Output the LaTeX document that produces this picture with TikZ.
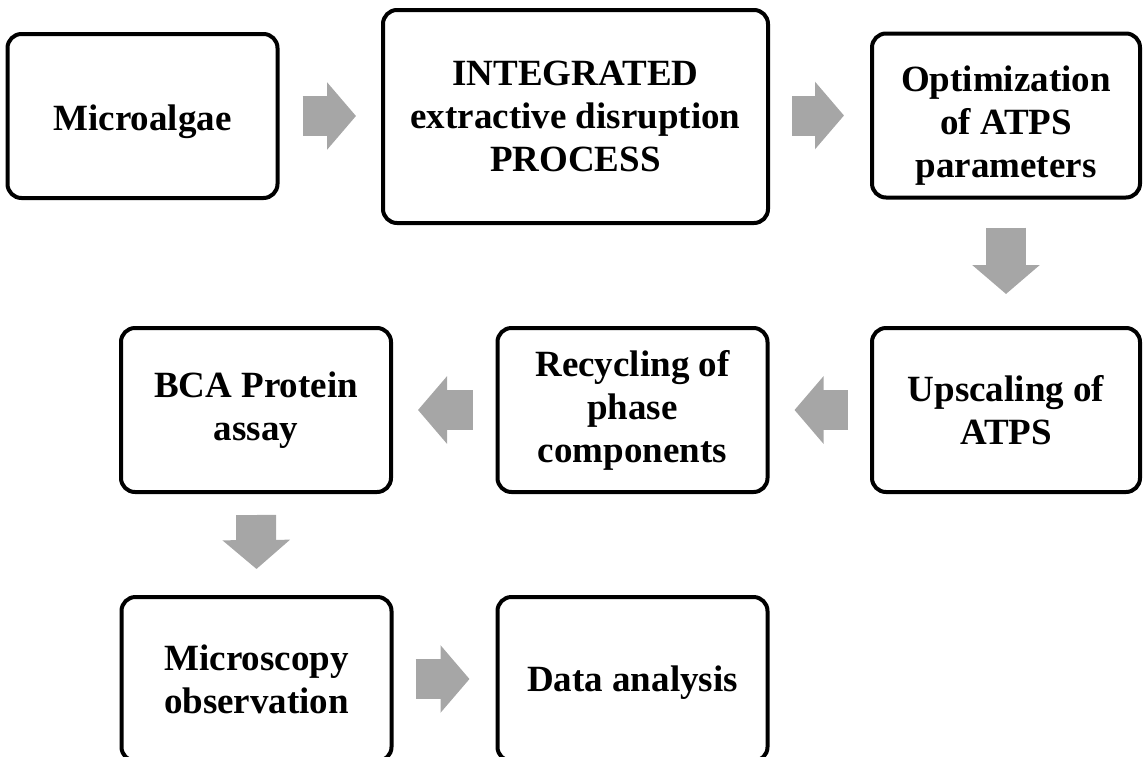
\documentclass[tikz,border=0pt]{standalone}
\usepackage{fontspec}
\setmainfont{Liberation Serif}
\usetikzlibrary{arrows.meta}
\usetikzlibrary{positioning}
\definecolor{arrowgray}{HTML}{A6A6A6}

\begin{document}
\begin{tikzpicture}[x=1pt, y=-1pt,
    stepbox/.style={draw, line width=4pt, rounded corners=14pt, fill=white,
        minimum width=270pt, minimum height=164pt, align=center,
        inner sep=0pt, font=\fontsize{37}{43}\selectfont\bfseries},
    blockarrow/.style={draw=arrowgray, line width=40pt,
        -{Triangle[length=29pt, width=66pt]}}]
        \useasboundingbox (0,0) rectangle (1143,756);

        % Row 1
        \node[stepbox] (micro) at (142.5,116) {\rule{0pt}{37pt}Microalgae};
        \node[stepbox, minimum width=385pt, minimum height=213pt] (integ) at (575.5,116.5)
            {INTEGRATED\\extractive disruption\\PROCESS};
        \node[stepbox, minimum width=268pt] (optim) at (1006,115.5)
            {\rule{0pt}{45pt}Optimization\\of ATPS\\parameters};

        % Row 2
        \node[stepbox, minimum width=268pt] (upscal) at (1006,410) {Upscaling of\\ATPS};
        \node[stepbox] (recyc) at (632.5,410) {Recycling of\\phase\\components};
        \node[stepbox] (bca) at (256,410) {BCA Protein\\assay};

        % Row 3
        \node[stepbox] (micros) at (256.5,679) {Microscopy\\observation};
        \node[stepbox] (data) at (632.5,679) {\rule{0pt}{33pt}Data analysis};

        % Arrows
        \draw[blockarrow] ([xshift=23pt]micro.east) -- ([xshift=-25pt]integ.west |- micro.east);
        \draw[blockarrow] ([xshift=22pt]integ.east |- optim.west) -- ([xshift=-26pt]optim.west);
        \draw[blockarrow] ([yshift=-28pt]optim.south) -- ([yshift=32pt]upscal.north);
        \draw[blockarrow] ([xshift=-22pt]upscal.west) -- ([xshift=25pt]recyc.east);
        \draw[blockarrow] ([xshift=-23pt]recyc.west) -- ([xshift=25pt]bca.east);
        \draw[blockarrow] ([yshift=-21pt]bca.south) -- ([yshift=26pt]micros.north);
        \draw[blockarrow] ([xshift=22pt]micros.east) -- ([xshift=-26pt]data.west);

    \end{tikzpicture}
\end{document}
